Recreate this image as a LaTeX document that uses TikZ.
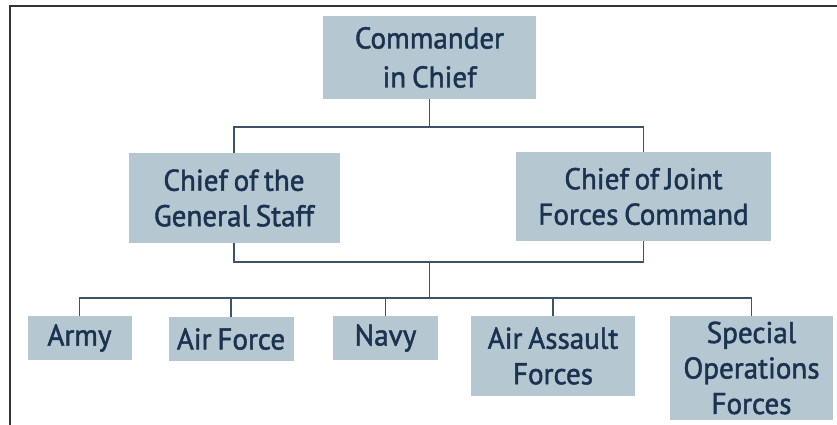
\documentclass[tikz,border=0pt]{standalone}
\usepackage{fontspec}
\setmainfont[FakeStretch=0.97,FakeBold=1.6,WordSpace=0.75]{PT Sans}
\definecolor{boxfill}{HTML}{B5C8D2}
\definecolor{txt}{HTML}{1B3350}
\definecolor{wire}{HTML}{3E5268}
\begin{document}
\begin{tikzpicture}[x=1pt,y=1pt,
  orgbox/.style={rectangle, fill=boxfill, draw=none, text=txt, align=center,
    font=\fontsize{30}{35.5}\selectfont, inner sep=0pt},
  wire/.style={draw=wire, line width=1.6pt}]
\useasboundingbox (0,0) rectangle (837,425);
\draw[line width=2pt, draw=black!80] (10,0) -- (10,419) -- (837,419);
% nodes
\node[orgbox, minimum width=213, minimum height=83, font=\fontsize{30}{39}\selectfont] (cic) at (429.5,367.5) {Commander\\in Chief};
\node[orgbox, minimum width=211, minimum height=90] (cgs) at (234,227) {Chief of the\\General Staff};
\node[orgbox, minimum width=255, minimum height=89] (cjfc) at (643.5,228.5) {Chief of Joint\\Forces Command};
\node[orgbox, minimum width=104, minimum height=44] (army) at (79.5,87) {Army};
\node[orgbox, minimum width=125, minimum height=44] (af) at (231,86) {Air Force};
\node[orgbox, minimum width=105, minimum height=44] (navy) at (385.5,87) {Navy};
\node[orgbox, minimum width=164, minimum height=80] (aaf) at (553,69) {Air Assault\\Forces};
\node[orgbox, minimum width=163, minimum height=104] (sof) at (751.5,57) {Special\\Operations\\Forces};
% bus coordinates
\coordinate (bus1) at (429.5,298);
\coordinate (bus2) at (429.5,163);
\coordinate (bus3) at (429.5,127);
% connectors
\draw[wire] (cic.south) -- (bus1);
\draw[wire] (cgs.north) |- (bus1) -| (cjfc.north);
\draw[wire] (cgs.south) |- (bus2) -| (cjfc.south);
\draw[wire] (bus2) -- (bus3);
\draw[wire] (army.north) |- (bus3) -| (sof.north);
\draw[wire] (af.north) -- (af.north |- bus3);
\draw[wire] (navy.north) -- (navy.north |- bus3);
\draw[wire] (aaf.north) -- (aaf.north |- bus3);
\end{tikzpicture}
\end{document}
